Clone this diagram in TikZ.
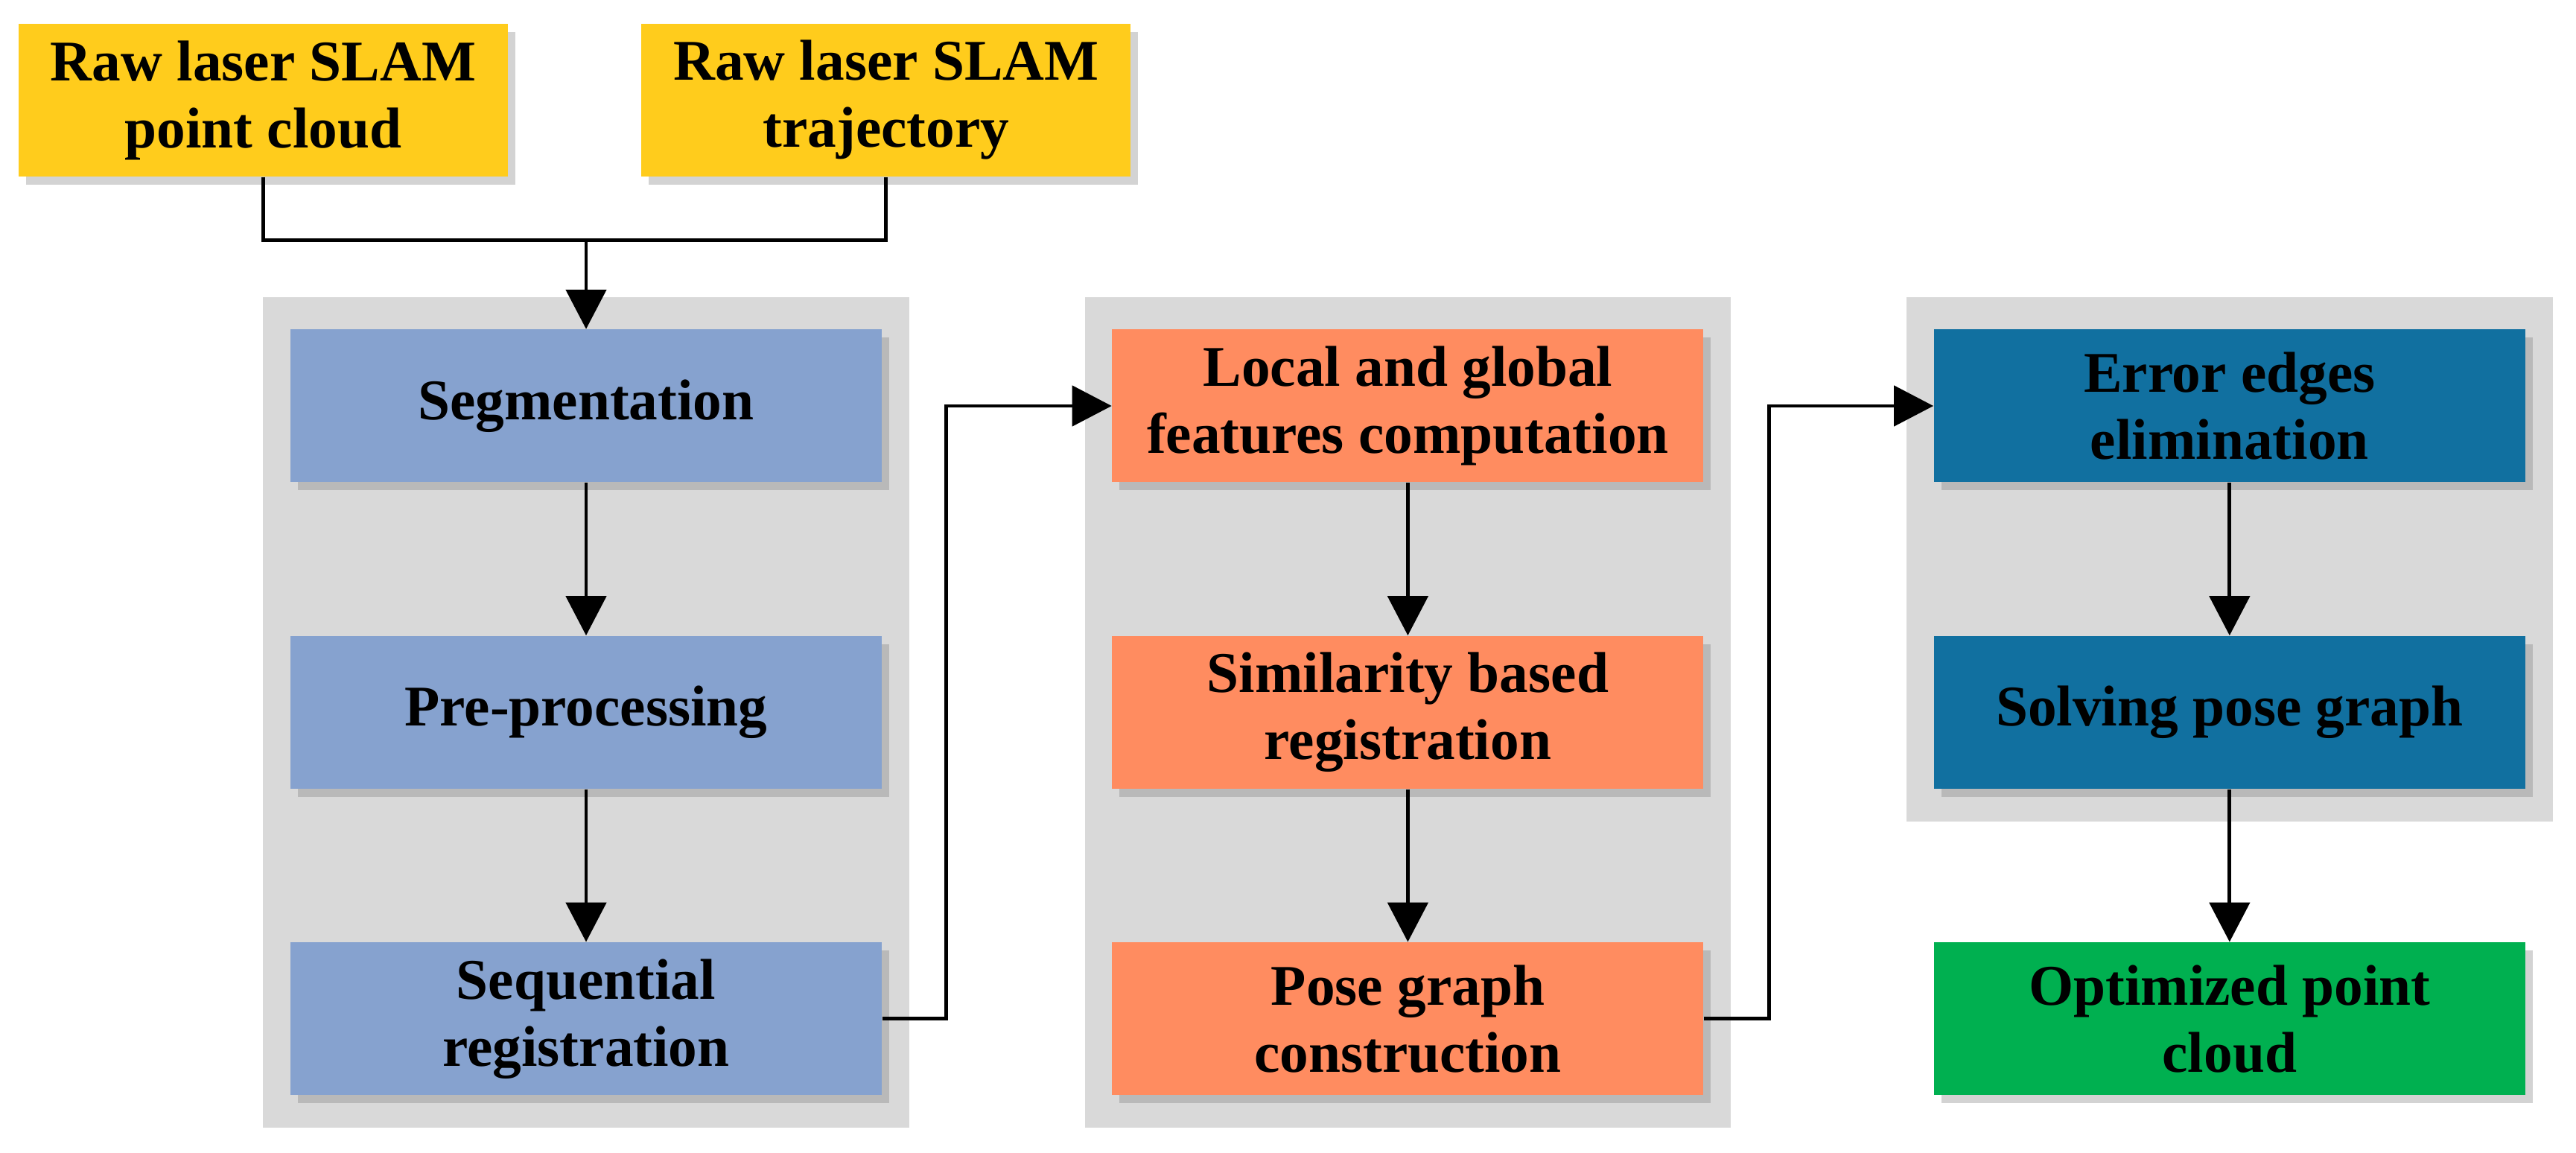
\documentclass[tikz,border=0pt]{standalone}
\usepackage{fontspec}
\setmainfont{Liberation Serif}
\usepackage{tikz}
\usetikzlibrary{positioning,arrows.meta,shadows,fit,backgrounds}
\definecolor{inyellow}{RGB}{255,204,28}
\definecolor{segblue}{RGB}{134,162,207}
\definecolor{regorange}{RGB}{255,140,96}
\definecolor{optblue}{RGB}{17,112,160}
\definecolor{outgreen}{RGB}{0,176,80}
\definecolor{panelgray}{RGB}{217,217,217}

\begin{document}
\begin{tikzpicture}[
    node distance=20.5mm and 30.8mm,
    box/.style={rectangle, align=center, minimum width=79.4mm, minimum height=20.5mm, font=\fontsize{22}{25.6}\selectfont\bfseries, drop shadow={shadow xshift=1mm, shadow yshift=-1.1mm, opacity=0.35}},
    panel/.style={rectangle, fill=panelgray, inner xsep=3.6mm, inner ysep=4.3mm},
    link/.style={-{Triangle[width=5.4mm,length=5.3mm]}, line width=1.4pt}
]
\useasboundingbox (0,0) rectangle (34.59,-15.48);

\node[box, fill=inyellow, minimum width=65.7mm] (in1) at (3.535,-1.345) {Raw laser SLAM\\point cloud};
\node[box, fill=inyellow, minimum width=65.7mm, right=17.8mm of in1] (in2) {Raw laser SLAM\\trajectory};

\node[box, fill=segblue] (a1) at (7.87,-5.45) {Segmentation};
\node[box, fill=segblue, below=of a1] (a2) {Pre-processing};
\node[box, fill=segblue, below=of a2] (a3) {Sequential\\registration};

\node[box, fill=regorange, right=of a1] (b1) {Local and global\\features computation};
\node[box, fill=regorange, below=of b1] (b2) {Similarity based\\registration};
\node[box, fill=regorange, below=of b2] (b3) {Pose graph\\construction};

\node[box, fill=optblue, right=of b1] (c1) {Error edges\\elimination};
\node[box, fill=optblue, below=of c1] (c2) {Solving pose graph};
\node[box, fill=outgreen, below=of c2] (out) {Optimized point\\cloud};

\begin{scope}[on background layer]
\node[panel, fit=(a1)(a3)] (pa) {};
\node[panel, fit=(b1)(b3)] (pb) {};
\node[panel, fit=(c1)(c2)] (pc) {};
\end{scope}

\coordinate[above=11.9mm of a1] (join);
\draw[line width=1.4pt] (in1) |- (join) -| (in2);
\draw[link] (join) -- (a1);

\draw[link] (a1) -- (a2);
\draw[link] (a2) -- (a3);
\draw[link] (b1) -- (b2);
\draw[link] (b2) -- (b3);
\draw[link] (c1) -- (c2);
\draw[link] (c2) -- (out);

\draw[link] (a3.east) -- ++(8.6mm,0) |- (b1);
\draw[link] (b3.east) -- ++(8.7mm,0) |- (c1);

\end{tikzpicture}
\end{document}
